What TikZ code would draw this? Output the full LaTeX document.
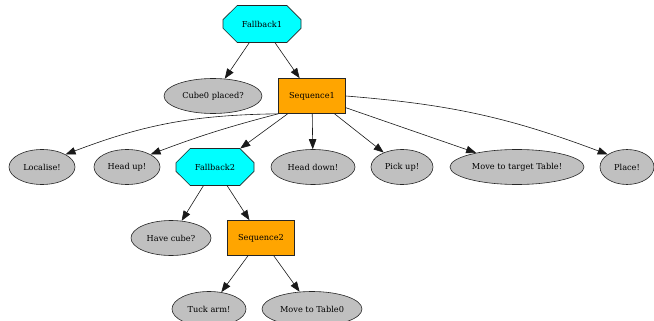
\documentclass[tikz,border=0pt]{standalone}
\usepackage{fontspec}
\setmainfont{DejaVu Serif}
\usetikzlibrary{shapes.misc,shapes.geometric,arrows.meta,positioning}
\definecolor{leafgray}{RGB}{192,192,192}
\definecolor{seqorange}{RGB}{255,165,0}
\definecolor{fbcyan}{RGB}{0,255,255}

\begin{document}
\begin{tikzpicture}[
    x=1pt, y=-1pt,
    every node/.style={font=\fontsize{8.2}{10}\selectfont, draw=black!85, line width=0.6pt},
    fallback/.style={chamfered rectangle, chamfered rectangle xsep=15pt, chamfered rectangle ysep=11pt,
      fill=fbcyan, minimum width=78pt, minimum height=37pt, inner sep=0pt},
    sequence/.style={rectangle, fill=seqorange, minimum width=67pt, minimum height=35pt, inner sep=0pt},
    leaf/.style={ellipse, fill=leafgray, minimum height=35pt, inner sep=0pt},
    edge/.style={-{Triangle[length=10pt,width=7.5pt]}, line width=0.6pt, black!90}
    ]
  \useasboundingbox (0,0) rectangle (654,321);

  \node [fallback] (fb1) at (262,24) {Fallback1}; % root
  \node [leaf, minimum width=98pt] (cube) at (213,96) {Cube0 placed?};
  \node [sequence] (seq1) at (312,96) {Sequence1};

  \node [leaf, minimum width=66pt] (localise) at (42,167) {Localise!};
  \node [leaf, minimum width=66pt] (headup) at (127,167) {Head up!};
  \node [fallback] (fb2) at (215,167) {Fallback2};
  \node [leaf, minimum width=84pt] (headdown) at (313,167) {Head down!};
  \node [leaf, minimum width=62pt] (pickup) at (402,167) {Pick up!};
  \node [leaf, minimum width=134pt] (movetarget) at (517,167) {Move to target Table!};
  \node [leaf, minimum width=54pt] (place) at (627,167) {Place!};

  \node [leaf, minimum width=80pt] (havecube) at (171,238) {Have cube?};
  \node [sequence] (seq2) at (261,238) {Sequence2};

  \node [leaf, minimum width=74pt] (tuck) at (209,309) {Tuck arm!};
  \node [leaf, minimum width=100pt] (movetable) at (312,309) {Move to Table0};

  \draw [edge] (fb1) -- (cube);
  \draw [edge] (fb1) -- (seq1);
  \draw [edge] (seq1.south west) to[bend right=10] (localise.north east);
  \draw [edge] (seq1.south west) to[bend right=3] (headup.north east);
  \draw [edge] (seq1) -- (fb2);
  \draw [edge] (seq1) -- (headdown);
  \draw [edge] (seq1) -- (pickup);
  \draw [edge] (seq1) -- (movetarget);
  \draw [edge] (seq1.east) to[bend left=8] (place.north west);
  \draw [edge] (fb2) -- (havecube);
  \draw [edge] (fb2) -- (seq2);
  \draw [edge] (seq2) -- (tuck);
  \draw [edge] (seq2) -- (movetable);
\end{tikzpicture}
\end{document}
